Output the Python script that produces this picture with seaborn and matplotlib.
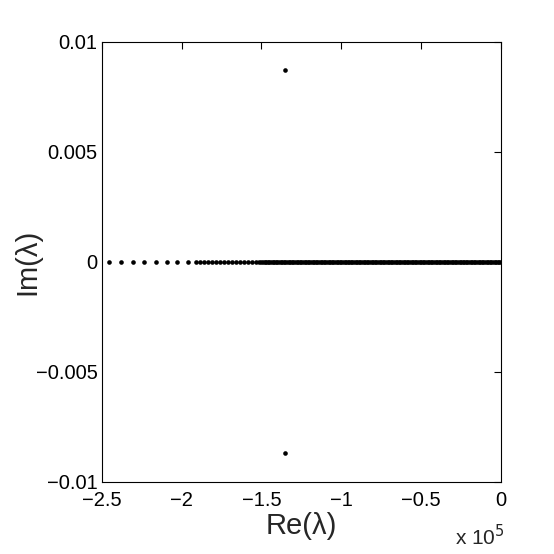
import numpy as np
import pandas as pd
import matplotlib
matplotlib.use("Agg")
import matplotlib.pyplot as plt
import seaborn as sns

re_sparse_k = [-245.2, -237.9, -230.6, -223.3, -216.0, -209.2, -202.6, -196.2]
re_mid_k = [-191.0, -188.5, -186.0, -183.5, -181.0, -178.5, -176.0, -173.5,
            -171.0, -168.5, -166.0, -163.5, -161.0, -158.5, -156.0, -153.5,
            -151.5]
re_dense_k = [
    -150, -149, -148, -147, -146, -145, -144, -143, -142, -141,
    -140, -139, -138, -137, -136, -135, -134, -133, -132, -131,
    -130, -129, -128, -127, -126, -125, -124, -123, -122, -121,
    -120, -119, -118, -117, -116, -115, -114, -113, -112, -111,
    -110, -109, -108, -107, -106, -105, -104, -103, -102, -101,
    -100, -99, -98, -97, -96, -95, -94, -93, -92, -91,
    -90, -89, -88, -87, -86, -85, -84, -83, -82, -81,
    -80, -79, -78, -77, -76, -75, -74, -73, -72, -71,
    -70, -69, -68, -67, -66, -65, -64, -63, -62, -61,
    -60, -59, -58, -57, -56, -55, -54, -53, -52, -51,
    -50, -49, -48, -47, -46, -45, -44, -43, -42, -41,
    -40, -39, -38, -37, -36, -35, -34, -33, -32, -31,
    -30, -29, -28, -27, -26, -25, -24, -23, -22, -21,
    -20, -19, -18, -17, -16, -15, -14, -13, -12, -11,
    -10, -9, -8, -7, -6, -5, -4, -3, -2, -1, -0.3,
]
# complex pair
re_pair_k = [-135.2, -135.2]
im_pair = [0.0087, -0.0087]

x_ticks = [-2.5e5, -2e5, -1.5e5, -1e5, -0.5e5, 0]
x_ticklabels = ["\u22122.5", "\u22122", "\u22121.5", "\u22121", "\u22120.5", "0"]
y_ticks = [-0.01, -0.005, 0, 0.005, 0.01]
y_ticklabels = ["\u22120.01", "\u22120.005", "0", "0.005", "0.01"]

real_k = re_sparse_k + re_mid_k + re_dense_k
re_all = [v * 1e3 for v in real_k + re_pair_k]
im_all = [0.0] * len(real_k) + im_pair
df = pd.DataFrame({"re": re_all, "im": im_all})

sns.set_style("white")
plt.rcParams["font.family"] = ["Liberation Sans", "DejaVu Sans"]

fig = plt.figure(figsize=(5.54, 5.54), dpi=100)
ax = fig.add_axes([0.1836, 0.1305, 0.7208, 0.794])

sns.scatterplot(data=df, x="re", y="im", ax=ax, color="black", s=11,
                linewidth=0, legend=False)

ax.set_xlim(-2.5e5, 0)
ax.set_ylim(-0.01, 0.01)
ax.set_xticks(x_ticks)
ax.set_xticklabels(x_ticklabels)
ax.set_yticks(y_ticks)
ax.set_yticklabels(y_ticklabels)
ax.tick_params(axis="x", pad=7)
ax.tick_params(axis="y", pad=3)
ax.tick_params(direction="in", length=5, width=0.8, labelsize=14.5,
               top=True, right=True, colors="black")
for sp in ax.spines.values():
    sp.set_color("black")
    sp.set_linewidth(0.8)

ax.set_xlabel("Re(\u03bb)", fontsize=21)
ax.set_ylabel("Im(\u03bb)", fontsize=21)
ax.xaxis.set_label_coords(0.5, -0.068)
ax.yaxis.set_label_coords(-0.15, 0.5)
fig.text(0.822, 0.008, "x 10$^{5}$", fontsize=15, ha="left", va="bottom")

fig.savefig("out.png", dpi=100, facecolor="white")
